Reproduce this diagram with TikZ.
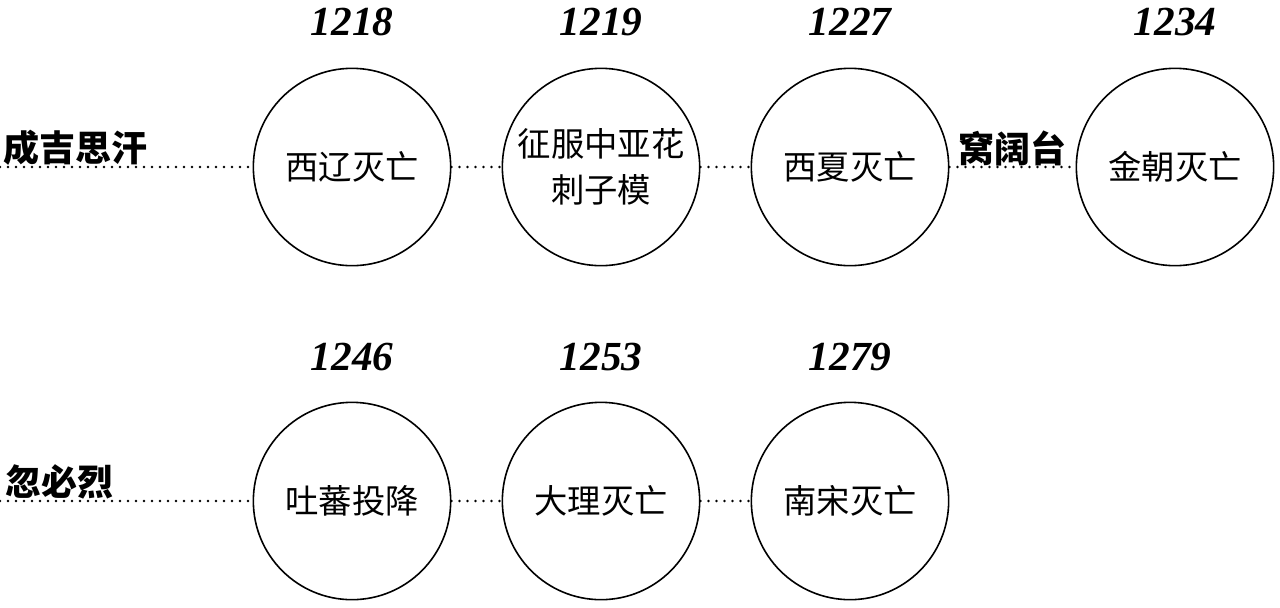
\documentclass[tikz,border=0pt]{standalone}
\usepackage{fontspec}
\usepackage{tikz}
\usetikzlibrary{calc}
\usetikzlibrary{positioning}
\newfontfamily\cjk{Noto Sans CJK SC}
\newfontfamily\yearfont{Liberation Serif}
\begin{document}
\begin{tikzpicture}[x=0.75pt, y=-0.75pt,
    event/.style={draw, circle, line width=1.2pt, minimum size=148pt, inner sep=0pt,
                  align=center, font=\cjk\fontsize{25}{34}\selectfont},
    year/.style={font=\yearfont\bfseries\itshape\fontsize{31}{31}\selectfont},
    ruler/.style={font=\cjk\bfseries\fontsize{27}{27}\selectfont},
    dots/.style={line width=2pt, line cap=round, dash pattern=on 0pt off 6pt}]
            \useasboundingbox (0,0) rectangle (1280,607);
            \node[event] (xiliao)  at ( 352,167) {西辽灭亡};
            \node[event] (huaci)   at ( 601,167) {征服中亚花\\刺子模};
            \node[event] (xixia)   at ( 850,167) {西夏灭亡};
            \node[event] (jin)     at (1175,167) {金朝灭亡};
            \node[event] (tubo)    at ( 352,501) {吐蕃投降};
            \node[event] (dali)    at ( 601,501) {大理灭亡};
            \node[event] (nansong) at ( 850,501) {南宋灭亡};
            \node[year] (y1218) at ( 352, 22) {1218};
            \node[year] (y1219) at ( 601, 22) {1219};
            \node[year] (y1227) at ( 850, 22) {1227};
            \node[year] (y1234) at (1175, 22) {1234};
            \node[year] (y1246) at ( 352,357) {1246};
            \node[year] (y1253) at ( 601,357) {1253};
            \node[year] (y1279) at ( 850,357) {1279};
            \node[ruler] (chinggis) at (  75,148) {成吉思汗};
            \node[ruler] (ogedei)   at (1012,148) {窝阔台};
            \node[ruler] (kublai)   at (  59,482) {忽必烈};
            \coordinate (top0) at (0,167);
            \coordinate (bot0) at (0,501);
            \draw[dots] (top0) -- (xiliao) -- (huaci) -- (xixia) -- (jin);
            \draw[dots] (bot0) -- (tubo) -- (dali) -- (nansong);
\end{tikzpicture}
\end{document}
